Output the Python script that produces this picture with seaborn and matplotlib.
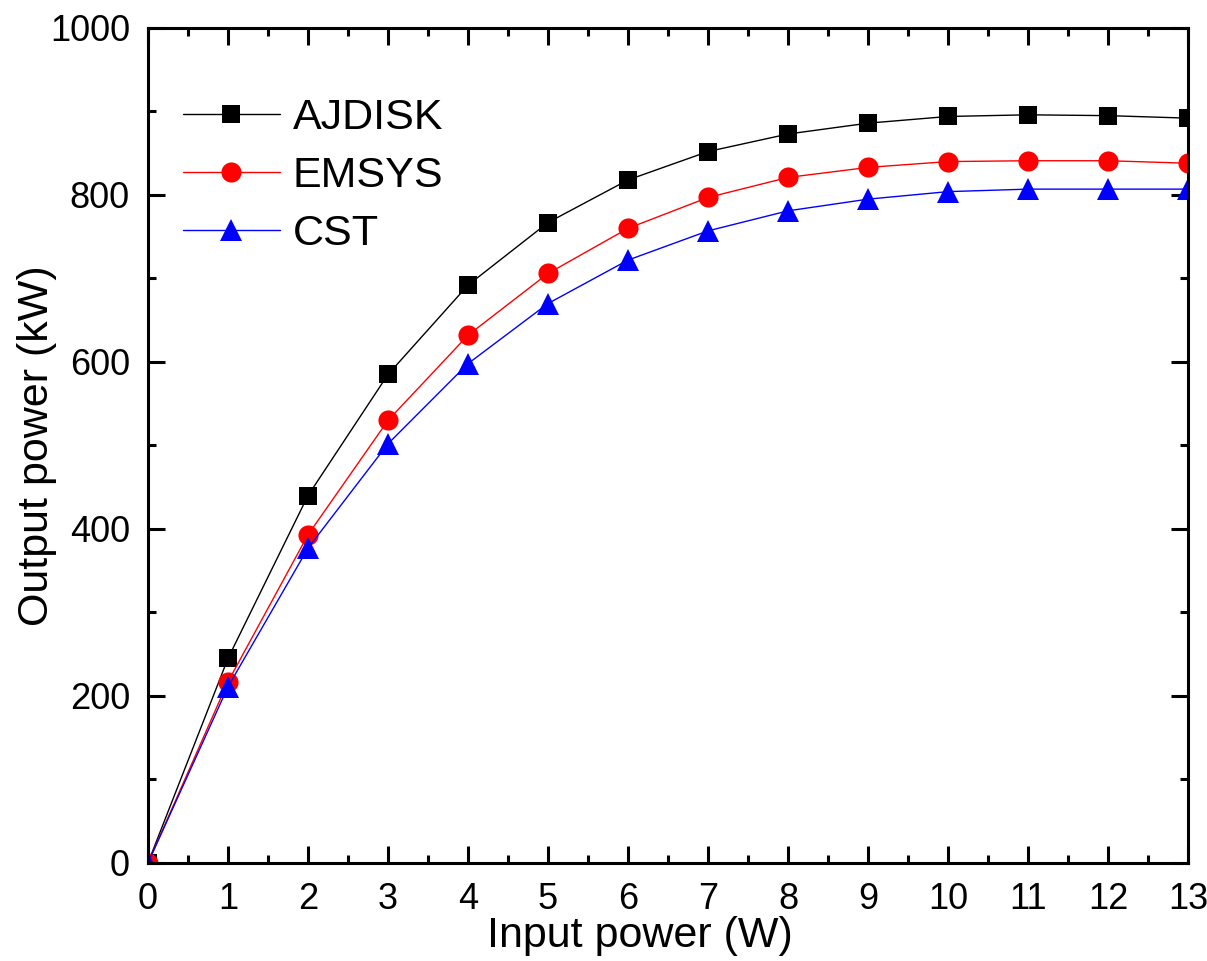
import matplotlib
matplotlib.use("Agg")
import matplotlib.pyplot as plt
from matplotlib.ticker import MultipleLocator
import seaborn as sns
import pandas as pd

input_power = [0, 1, 2, 3, 4, 5, 6, 7, 8, 9, 10, 11, 12, 13]
ajdisk = [0, 245, 440, 585, 692, 767, 818, 852, 873, 886, 894, 896, 895, 892]
emsys = [0, 217, 393, 530, 632, 706, 760, 797, 821, 833, 840, 841, 841, 838]
cst = [0, 211, 377, 502, 598, 670, 722, 757, 781, 795, 804, 807, 807, 807]
series_names = ["AJDISK", "EMSYS", "CST"]

df = pd.DataFrame({
    "x": input_power * 3,
    "y": ajdisk + emsys + cst,
    "series": [series_names[0]] * len(input_power)
    + [series_names[1]] * len(input_power)
    + [series_names[2]] * len(input_power),
})

sns.set_style("ticks")
plt.rcParams["font.family"] = ["Liberation Sans", "DejaVu Sans"]
plt.rcParams["text.color"] = "black"
plt.rcParams["axes.labelcolor"] = "black"
plt.rcParams["xtick.color"] = "black"
plt.rcParams["ytick.color"] = "black"
plt.rcParams["axes.edgecolor"] = "black"

fig = plt.figure(figsize=(12.07, 9.61), dpi=100)
ax = fig.add_axes([0.1226, 0.102, 0.8617, 0.8689])

palette = {"AJDISK": "black", "EMSYS": "red", "CST": "blue"}
markers = {"AJDISK": "s", "EMSYS": "o", "CST": "^"}
sizes = {"AJDISK": 12.5, "EMSYS": 14.5, "CST": 15.5}

for name in series_names:
    sub = df[df["series"] == name]
    sns.lineplot(data=sub, x="x", y="y", ax=ax, color=palette[name],
                 marker=markers[name], markersize=sizes[name],
                 markeredgewidth=0, linewidth=1.0, label=name,
                 clip_on=True)

ax.set_xlim(0, 13)
ax.set_ylim(0, 1000)
ax.xaxis.set_major_locator(MultipleLocator(1))
ax.xaxis.set_minor_locator(MultipleLocator(0.5))
ax.yaxis.set_major_locator(MultipleLocator(200))
ax.yaxis.set_minor_locator(MultipleLocator(100))
ax.tick_params(which="both", direction="in", top=True, right=True,
               width=2.2, labelsize=26, colors="black")
ax.tick_params(which="major", length=12)
ax.tick_params(axis="x", which="major", pad=14)
ax.tick_params(axis="y", which="major", pad=13)
ax.tick_params(which="minor", length=6)
for s in ax.spines.values():
    s.set_linewidth(2.2)
    s.set_visible(True)
    s.set_color("black")

ax.set_xlabel("Input power (W)", fontsize=31, color="black")
ax.set_ylabel("Output power (kW)", fontsize=31, color="black")
ax.xaxis.set_label_coords(0.473, -0.064)
ax.yaxis.set_label_coords(-0.087, 0.5)

leg = ax.legend(loc="upper left", bbox_to_anchor=(0.017, 0.937), frameon=False,
                fontsize=31, handlelength=2.25, handletextpad=0.3,
                labelspacing=0.42, borderaxespad=0)
for t in leg.get_texts():
    t.set_color("black")

fig.savefig("out.png", dpi=100)
